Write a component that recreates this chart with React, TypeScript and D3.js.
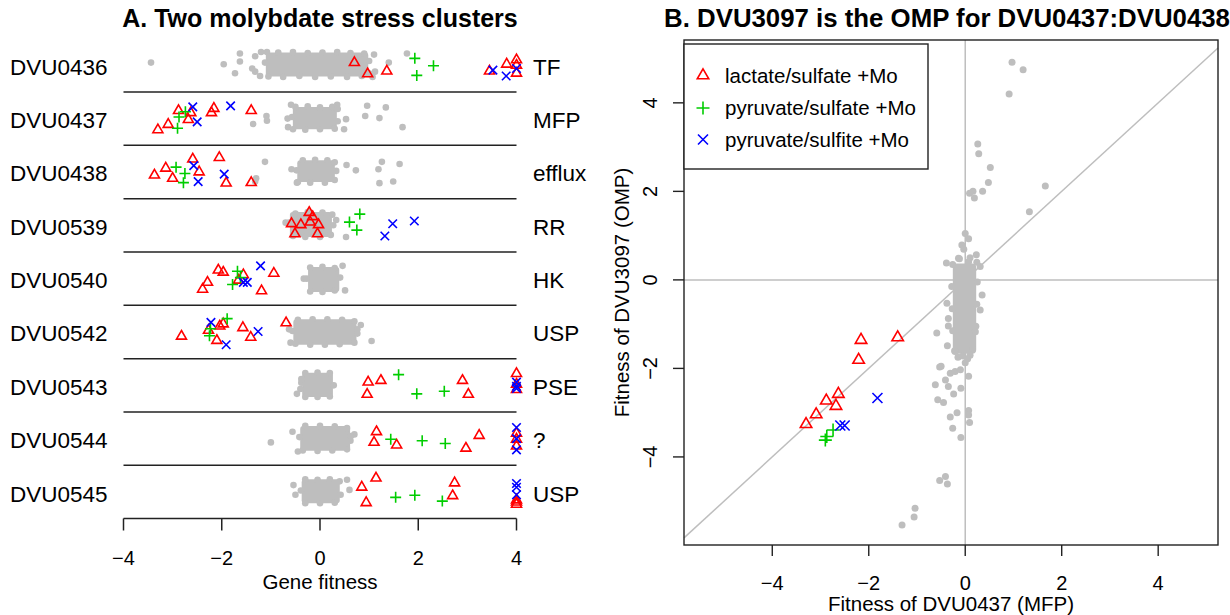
import * as React from 'react';
import * as d3 from 'd3';

const genes = ['DVU0436', 'DVU0437', 'DVU0438', 'DVU0539', 'DVU0540', 'DVU0542', 'DVU0543', 'DVU0544', 'DVU0545'];
const roles = ['TF', 'MFP', 'efflux', 'RR', 'HK', 'USP', 'PSE', '?', 'USP'];

// lactate/sulfate +Mo experiments (fitness, vertical jitter)
const lactateFit = [
  [0.70, 0.97, 1.36, 3.45, 3.80, 4, 4, 4],
  [-3.30, -3.09, -2.88, -2.63, -2.68, -2.21, -2.16, -1.40],
  [-3.37, -3.14, -3.00, -2.59, -2.46, -2.05, -1.91, -1.40],
  [-0.22, -0.58, -0.39, -0.20, -0.03, -0.51, -0.05, -0.15],
  [-2.07, -1.97, -1.56, -1.66, -0.94, -2.29, -2.39, -1.19],
  [-2.82, -2.27, -2.10, -2.04, -1.97, -1.57, -1.41, -0.69],
  [0.98, 1.24, 0.96, 2.90, 3.02, 4, 4, 4],
  [1.15, 1.10, 1.56, 3.24, 2.97, 4, 4, 4],
  [1.14, 0.85, 0.94, 2.74, 2.70, 4, 4, 4],
];
const lactateJit = [
  [0.05, -0.16, -0.11, -0.11, 0.02, 0.10, -0.15, 0.0],
  [-0.21, -0.11, 0.15, 0.11, -0.02, 0.11, 0.19, 0.15],
  [-0.06, 0.07, -0.12, 0.24, 0.0, 0.27, -0.21, -0.20],
  [0.24, 0.03, 0.01, 0.06, 0.01, -0.16, -0.16, 0.16],
  [0.16, 0.12, 0.07, -0.03, 0.10, -0.07, -0.20, -0.23],
  [-0.08, 0.03, -0.16, 0.11, 0.15, 0.08, -0.10, 0.17],
  [0.06, 0.09, -0.17, 0.09, -0.17, 0.22, 0.02, -0.08],
  [0.13, -0.07, -0.12, 0.06, -0.18, 0.10, -0.01, -0.14],
  [0.26, 0.09, -0.20, 0.17, -0.07, -0.15, -0.19, -0.23],
];
// pyruvate/sulfate +Mo
const pyrSulfateFit = [
  [1.93, 2.31, 1.97],
  [-2.90, -2.87, -2.74],
  [-2.93, -2.75, -2.78],
  [0.81, 0.60, 0.75],
  [-1.68, -1.78, -1.62],
  [-1.89, -2.23, -2.25],
  [1.60, 1.97, 2.53],
  [1.44, 2.08, 2.55],
  [1.54, 1.93, 2.49],
];
const pyrSulfateJit = [
  [0.13, -0.01, -0.19],
  [-0.18, 0.03, 0.13],
  [0.09, -0.03, -0.20],
  [0.21, 0.06, -0.09],
  [0.14, -0.11, 0.02],
  [0.25, 0.06, -0.07],
  [0.20, -0.16, -0.11],
  [-0.01, -0.04, -0.09],
  [-0.10, -0.06, -0.17],
];
// pyruvate/sulfite +Mo
const pyrSulfiteFit = [
  [3.52, 3.79, 4],
  [-2.59, -2.50, -1.82],
  [-2.57, -2.48, -1.95],
  [1.48, 1.92, 1.32],
  [-1.21, -1.56, -1.48],
  [-2.22, -1.26, -1.91],
  [4, 4, 4],
  [4, 4, 4],
  [4, 4, 4],
];
const pyrSulfiteJit = [
  [-0.09, -0.20, -0.06],
  [0.22, -0.06, 0.24],
  [0.12, -0.18, -0.04],
  [0.03, 0.08, -0.20],
  [0.24, -0.07, -0.07],
  [0.18, 0.01, -0.24],
  [0.06, -0.02, -0.06],
  [0.21, 0.0, -0.21],
  [0.16, 0.09, -0.05],
];

// DVU3097 (OMP) fitness in the same experiments, paired with DVU0437 (row 1)
const ompLactate = [-3.26, -3.04, -2.73, -2.58, -2.85, -1.81, -1.36, -1.30];
const ompPyrSulfate = [-3.62, -3.54, -3.39];
const ompPyrSulfite = [-3.29, -3.29, -2.67];

// all other experiments: dense core extent per gene + scattered points [fitness, jitter]
const coreX: [number, number][] = [
  [-1.17, 1.05], [-0.62, 0.41], [-0.53, 0.37], [-0.68, 0.31], [-0.31, 0.46],
  [-0.61, 0.81], [-0.43, 0.33], [-0.47, 0.68], [-0.44, 0.47],
];
const coreJ: [number, number][] = [
  [-0.27, 0.30], [-0.26, 0.28], [-0.25, 0.28], [-0.28, 0.31], [-0.31, 0.28],
  [-0.30, 0.30], [-0.28, 0.30], [-0.29, 0.30], [-0.27, 0.30],
];
const grayA: [number, number][][] = [
  [[-3.44, 0.05], [-1.96, 0.02], [-1.63, 0.22], [-1.63, 0.07], [-1.73, -0.15], [-1.38, -0.06], [-1.32, -0.12], [-1.32, 0.17], [1.77, 0.22], [1.10, 0.20], [1.12, -0.12], [1.07, -0.22], [-1.20, 0.25], [-1.22, -0.20], [1.40, 0.05],
    [-1.08, 0.25], [-0.85, 0.24], [-0.55, 0.25], [-0.25, 0.23], [0.05, 0.24], [0.35, 0.25], [0.62, 0.23], [0.90, 0.22],
    [-1.05, -0.21], [-0.75, -0.22], [-0.42, -0.20], [-0.10, -0.22], [0.22, -0.21], [0.55, -0.22], [0.85, -0.20], [1.00, -0.15], [-1.12, 0.05], [1.00, 0.08]],
  [[-1.36, -0.10], [-1.09, 0.05], [-1.08, -0.04], [-0.59, 0.26], [-0.65, -0.16], [-0.66, 0.0], [0.53, -0.01], [0.49, -0.20], [0.96, 0.24], [1.34, 0.21], [0.92, 0.05], [1.21, 0.01], [1.68, -0.16], [0.35, 0.26],
    [-0.50, 0.22], [-0.25, 0.23], [0.0, 0.21], [0.25, 0.22], [0.36, 0.18], [-0.55, -0.20], [-0.30, -0.21], [0.0, -0.20], [0.30, -0.19], [-0.57, 0.03], [0.36, -0.05]],
  [[-1.12, 0.19], [-1.30, -0.12], [-1.32, -0.18], [0.54, 0.13], [0.73, 0.03], [1.19, 0.05], [1.26, 0.19], [1.62, 0.15], [1.21, -0.21], [1.49, -0.18], [-0.47, -0.20], [-0.58, 0.05],
    [-0.35, 0.22], [-0.10, 0.23], [0.15, 0.22], [0.30, 0.18], [-0.45, -0.19], [-0.20, -0.20], [0.10, -0.20], [0.30, -0.15], [-0.48, 0.03], [0.33, 0.02]],
  [[0.53, -0.22], [-0.70, 0.05], [0.33, 0.10],
    [-0.50, 0.22], [-0.25, 0.25], [0.05, 0.24], [0.25, 0.20], [-0.55, -0.20], [-0.30, -0.22], [0.0, -0.22], [0.22, -0.18], [-0.63, 0.05], [0.27, 0.0]],
  [[0.46, 0.24], [0.51, -0.22], [-0.33, 0.0],
    [-0.20, 0.21], [0.05, 0.22], [0.30, 0.20], [-0.20, -0.24], [0.05, -0.25], [0.30, -0.22], [-0.27, 0.0], [0.41, 0.02]],
  [[0.83, 0.13], [1.05, -0.17], [0.76, 0.05], [-0.63, 0.05], [-0.60, -0.20],
    [-0.45, 0.23], [-0.15, 0.24], [0.15, 0.24], [0.45, 0.23], [0.70, 0.20], [-0.50, -0.22], [-0.20, -0.24], [0.10, -0.24], [0.40, -0.23], [0.70, -0.20], [-0.56, 0.02], [0.76, -0.03]],
  [[-0.47, -0.16], [-0.40, -0.07], [-0.38, 0.05],
    [-0.30, 0.23], [-0.05, 0.24], [0.20, 0.23], [-0.30, -0.22], [-0.05, -0.22], [0.20, -0.21], [-0.38, 0.12], [0.28, 0.0]],
  [[-1.00, -0.07], [-0.56, 0.13], [-0.45, -0.24], [0.62, -0.04], [0.70, 0.08],
    [-0.30, 0.24], [0.0, 0.24], [0.30, 0.23], [0.55, 0.20], [-0.35, -0.22], [-0.05, -0.23], [0.25, -0.22], [0.55, -0.20], [-0.42, 0.03], [0.63, 0.05]],
  [[-0.54, 0.13], [0.60, 0.04], [0.55, 0.23], [-0.50, -0.05],
    [-0.30, 0.24], [-0.05, 0.23], [0.20, 0.24], [0.40, 0.20], [-0.30, -0.21], [0.0, -0.21], [0.30, -0.20], [-0.39, 0.03], [0.42, -0.05]],
];

// panel B background: DVU0437 vs DVU3097 in all other experiments
const coreBX: [number, number] = [-0.33, 0.30];
const coreBY: [number, number] = [-1.75, 0.45];
const grayB: [number, number][] = [
  [0.97, 4.92], [1.20, 4.75], [0.91, 4.20], [0.26, 3.07], [0.28, 2.85], [0.52, 2.54], [0.48, 2.20],
  [0.36, 2.00], [0.16, 2.00], [0.09, 1.96], [0.19, 1.85], [1.66, 2.12], [1.33, 1.54],
  [0.00, 1.05], [0.07, 0.93], [-0.07, 0.79], [-0.03, 0.69], [0.23, 0.57], [-0.14, 0.49], [-0.39, 0.38],
  [0.07, 0.41], [0.31, 0.30], [0.35, -0.34], [0.31, -0.68], [-0.38, -0.53], [-0.35, -0.87], [-0.35, -1.04],
  [0.21, -1.17], [-0.59, -1.20], [-0.37, -1.49], [-0.21, -1.62], [0.10, -1.70], [-0.15, -1.75], [0.00, -1.87],
  [-0.53, -1.97], [-0.50, -1.95], [-0.31, -2.11], [-0.21, -2.07], [-0.10, -2.03], [0.07, -2.18],
  [-0.41, -2.26], [-0.62, -2.37], [-0.35, -2.41], [-0.09, -2.45], [-0.24, -2.58], [-0.57, -2.71],
  [-0.45, -2.77], [0.07, -2.95], [-0.17, -3.00], [0.07, -3.05], [-0.31, -3.10], [-0.26, -3.35],
  [0.09, -3.22], [-0.09, -3.56], [-0.53, -4.53], [-0.41, -4.44], [-0.37, -4.61],
  [-1.04, -5.16], [-1.06, -5.36], [-1.31, -5.54],
  [-0.26, 0.35], [-0.28, -0.15], [-0.27, -0.65], [-0.26, -1.15], [-0.22, -1.60],
  [0.24, 0.40], [0.25, -0.05], [0.24, -0.55], [0.22, -1.05], [0.15, -1.55],
  [-0.12, 0.48], [0.10, 0.50], [-0.05, -1.72], [0.05, -1.78],
];

const xTicks = [-4, -2, 0, 2, 4];
const yTicksB = [-4, -2, 0, 2, 4];

const RED = '#FF0000';
const GREEN = '#00CD00';
const BLUE = '#0000FF';
const GREY = '#BEBEBE';
const font = '"Liberation Sans", Arial, Helvetica, sans-serif';
const fmt = (v: number) => (v < 0 ? '\u2212' + Math.abs(v) : String(v));

function Tri({ x, y, s, c }: { x: number; y: number; s: number; c: string }) {
  const r = s / Math.sqrt(3);
  return <path d={`M${x},${y - r}L${x + s / 2},${y + r / 2}L${x - s / 2},${y + r / 2}Z`} fill="none" stroke={c} strokeWidth={1.6} />;
}
function Plus({ x, y, s, c }: { x: number; y: number; s: number; c: string }) {
  const h = s / 2;
  return <path d={`M${x - h},${y}H${x + h}M${x},${y - h}V${y + h}`} fill="none" stroke={c} strokeWidth={1.6} />;
}
function Cross({ x, y, s, c }: { x: number; y: number; s: number; c: string }) {
  const h = s / 2;
  return <path d={`M${x - h},${y - h}L${x + h},${y + h}M${x - h},${y + h}L${x + h},${y - h}`} fill="none" stroke={c} strokeWidth={1.6} />;
}

export default function App() {
  const xA = d3.scaleLinear().domain([-4, 4]).range([123.5, 516.5]);
  const yA = d3.scaleLinear().domain([-0.5, genes.length - 0.5]).range([38.6, 518.7]);
  const pos = (i: number, j: number) => yA(i - j);
  const xB = d3.scaleLinear().domain([-5.83, 5.24]).range([684, 1218]);
  const yB = d3.scaleLinear().domain([-5.99, 5.42]).range([545, 40]);
  const axisY = 518.5;
  const rA = 3.3;
  const rB = 3.5;

  return (
    <svg width={1230} height={615} style={{ position: 'absolute', left: 0, top: 0, background: '#fff' }} fontFamily={font}>
      {/* ---------- Panel A ---------- */}
      <text x={320} y={27} textAnchor="middle" fontSize={25} fontWeight="bold">A. Two molybdate stress clusters</text>
      {genes.map((g, i) => (
        <g key={g}>
          <text x={10} y={yA(i) + 9.5} fontSize={22.5}>{g}</text>
          <text x={533} y={yA(i) + 9.5} fontSize={22.5}>{roles[i]}</text>
          <rect x={xA(coreX[i][0]) + rA} width={xA(coreX[i][1]) - xA(coreX[i][0]) - 2 * rA}
            y={pos(i, coreJ[i][1]) + rA} height={pos(i, coreJ[i][0]) - pos(i, coreJ[i][1]) - 2 * rA}
            rx={3} fill={GREY} />
          {grayA[i].map(([v, j], k) => <circle key={k} cx={xA(v)} cy={pos(i, j)} r={rA} fill={GREY} />)}
        </g>
      ))}
      {genes.slice(0, -1).map((g, i) => (
        <line key={g} x1={xA(-4)} x2={xA(4)} y1={yA(i + 0.5)} y2={yA(i + 0.5)} stroke="#222" strokeWidth={1.5} />
      ))}
      {genes.map((g, i) => (
        <g key={g}>
          {lactateFit[i].map((v, k) => <Tri key={k} x={xA(v)} y={pos(i, lactateJit[i][k])} s={10} c={RED} />)}
          {pyrSulfateFit[i].map((v, k) => <Plus key={k} x={xA(v)} y={pos(i, pyrSulfateJit[i][k])} s={11} c={GREEN} />)}
          {pyrSulfiteFit[i].map((v, k) => <Cross key={k} x={xA(v)} y={pos(i, pyrSulfiteJit[i][k])} s={8.5} c={BLUE} />)}
        </g>
      ))}
      <path d={`M${xA(-4)},${axisY}H${xA(4)}`} stroke="#222" strokeWidth={1.5} />
      {xTicks.map(t => (
        <g key={t}>
          <line x1={xA(t)} x2={xA(t)} y1={axisY} y2={axisY + 12} stroke="#222" strokeWidth={1.5} />
          <text x={xA(t)} y={565} textAnchor="middle" fontSize={20}>{fmt(t)}</text>
        </g>
      ))}
      <text x={xA(0)} y={589} textAnchor="middle" fontSize={20.5}>Gene fitness</text>

      {/* ---------- Panel B ---------- */}
      <text x={947} y={27} textAnchor="middle" fontSize={25.8} fontWeight="bold">B. DVU3097 is the OMP for DVU0437:DVU0438</text>
      <line x1={xB(0)} x2={xB(0)} y1={yB(5.42)} y2={yB(-5.99)} stroke={GREY} strokeWidth={1.5} />
      <line x1={xB(-5.83)} x2={xB(5.24)} y1={yB(0)} y2={yB(0)} stroke={GREY} strokeWidth={1.5} />
      <line x1={xB(-5.83)} y1={yB(-5.83)} x2={xB(5.24)} y2={yB(5.24)} stroke={GREY} strokeWidth={1.5} />
      <rect x={xB(coreBX[0]) + rB} width={xB(coreBX[1]) - xB(coreBX[0]) - 2 * rB}
        y={yB(coreBY[1]) + rB} height={yB(coreBY[0]) - yB(coreBY[1]) - 2 * rB} rx={4} fill={GREY} />
      {grayB.map(([a, b], k) => <circle key={k} cx={xB(a)} cy={yB(b)} r={rB} fill={GREY} />)}
      {lactateFit[1].map((v, k) => <Tri key={'r' + k} x={xB(v)} y={yB(ompLactate[k])} s={11.5} c={RED} />)}
      {pyrSulfateFit[1].map((v, k) => <Plus key={'g' + k} x={xB(v)} y={yB(ompPyrSulfate[k])} s={13} c={GREEN} />)}
      {pyrSulfiteFit[1].map((v, k) => <Cross key={'b' + k} x={xB(v)} y={yB(ompPyrSulfite[k])} s={10} c={BLUE} />)}
      <rect x={684} y={40} width={534} height={505} fill="none" stroke="#222" strokeWidth={1.4} />
      {xTicks.map(t => (
        <g key={t}>
          <line x1={xB(t)} x2={xB(t)} y1={545} y2={556} stroke="#222" strokeWidth={1.4} />
          <text x={xB(t)} y={590} textAnchor="middle" fontSize={20}>{fmt(t)}</text>
        </g>
      ))}
      {yTicksB.map(t => (
        <g key={t}>
          <line x1={673} x2={684} y1={yB(t)} y2={yB(t)} stroke="#222" strokeWidth={1.4} />
          <text transform={`translate(657,${yB(t)}) rotate(-90)`} textAnchor="middle" fontSize={20}>{fmt(t)}</text>
        </g>
      ))}
      <text x={951} y={611} textAnchor="middle" fontSize={20.5}>Fitness of DVU0437 (MFP)</text>
      <text transform={`translate(629,${(yB(5.42) + yB(-5.99)) / 2}) rotate(-90)`} textAnchor="middle" fontSize={20.5}>Fitness of DVU3097 (OMP)</text>

      {/* legend */}
      <rect x={684} y={44} width={244} height={125} fill="#fff" stroke="#222" strokeWidth={1.4} />
      <Tri x={703} y={75.5} s={11.5} c={RED} />
      <Plus x={703} y={108} s={13} c={GREEN} />
      <Cross x={703} y={139.5} s={10} c={BLUE} />
      <text x={725} y={83.3} fontSize={20.5}>lactate/sulfate +Mo</text>
      <text x={725} y={115} fontSize={20.5}>pyruvate/sulfate +Mo</text>
      <text x={725} y={146.7} fontSize={20.5}>pyruvate/sulfite +Mo</text>
    </svg>
  );
}
